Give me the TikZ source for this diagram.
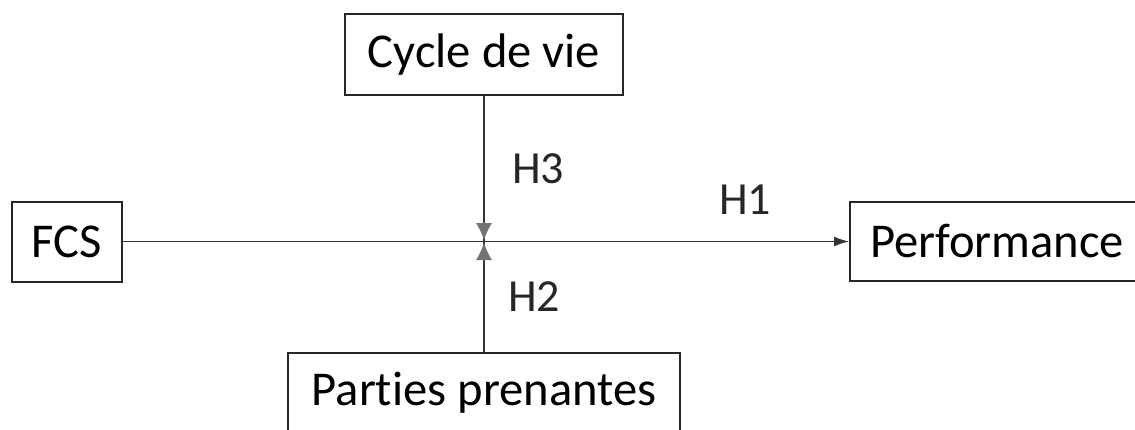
\documentclass[tikz,border=0pt]{standalone}
\usepackage{fontspec}
\setmainfont[Ligatures=NoCommon]{Carlito}
\usetikzlibrary{arrows.meta}

\begin{document}
\begin{tikzpicture}[
x=0.5pt, y=-0.5pt,
box/.style={rectangle, draw=black!85, line width=1pt, inner sep=0pt, font=\fontsize{24.3}{28}\selectfont},
hyp/.style={inner sep=0pt, font=\fontsize{23}{27}\selectfont, text=black!85},
link/.style={draw=black!80, line width=0.7pt},
meet/.style={-{Latex[length=8.5pt, width=8pt]}, color=black!55},
]
\useasboundingbox (0,0) rectangle (1135,429);
\node (cycle) [box, minimum width=139pt, minimum height=40.5pt] at (484,54.5) {Cycle de vie};
\node (fcs) [box, minimum width=55pt, minimum height=40pt] at (67,241.5) {FCS};
\node (perf) [box, minimum width=147pt, minimum height=39.5pt] at (997,241.5) {Performance};
\node (parties) [box, minimum width=196pt, minimum height=40pt] at (484,393) {Parties prenantes};
\coordinate (j) at (484,241.5);
\draw[link, -{Latex[length=7.5pt, width=5pt]}] (fcs) -- (perf);
\draw[link] (cycle) -- (j);
\draw[link] (parties) -- (j);
\draw[meet] (484,222) -- (484,240);
\draw[meet] (484,261) -- (484,243);
\node (h3) [hyp] at (538,169) {H3};
\node (h1) [hyp] at (745,199.5) {H1};
\node (h2) [hyp] at (534,297) {H2};
\end{tikzpicture}
\end{document}
